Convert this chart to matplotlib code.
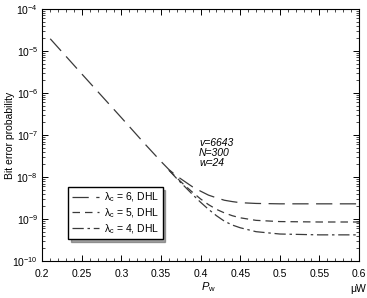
import matplotlib
matplotlib.use("Agg")
import matplotlib.pyplot as plt
from matplotlib.ticker import MultipleLocator, LogLocator, NullFormatter, FormatStrFormatter

plt.rcParams['font.family'] = ['Liberation Sans', 'DejaVu Sans']
plt.rcParams['mathtext.fontset'] = 'custom'
plt.rcParams['mathtext.rm'] = 'Liberation Sans'
plt.rcParams['mathtext.it'] = 'Liberation Sans:italic'

# power P_w (uW) and bit error probability
pw_6 = [0.21, 0.25, 0.30, 0.33, 0.35, 0.36, 0.37, 0.38, 0.39, 0.40, 0.41, 0.42,
        0.43, 0.44, 0.45, 0.47, 0.50, 0.55, 0.60]
ber_6 = [1.95e-5, 2.82e-6, 2.57e-7, 6.0e-8, 2.34e-8, 1.5e-8, 1.05e-8, 7.8e-9,
         5.8e-9, 4.6e-9, 3.7e-9, 3.2e-9, 2.8e-9, 2.6e-9, 2.45e-9, 2.35e-9,
         2.3e-9, 2.3e-9, 2.3e-9]

pw_5 = [0.36, 0.37, 0.38, 0.39, 0.40, 0.41, 0.42, 0.43, 0.44, 0.45, 0.47,
        0.50, 0.55, 0.60]
ber_5 = [1.45e-8, 9.5e-9, 6.3e-9, 4.3e-9, 3.0e-9, 2.2e-9, 1.7e-9, 1.4e-9,
         1.2e-9, 1.07e-9, 9.3e-10, 8.7e-10, 8.5e-10, 8.5e-10]

pw_4 = [0.36, 0.37, 0.38, 0.39, 0.40, 0.41, 0.42, 0.43, 0.44, 0.45, 0.47,
        0.50, 0.55, 0.60]
ber_4 = [1.45e-8, 9.1e-9, 5.9e-9, 3.8e-9, 2.5e-9, 1.7e-9, 1.2e-9, 8.9e-10,
         7.2e-10, 6.2e-10, 5.0e-10, 4.4e-10, 4.2e-10, 4.2e-10]

labels = [r'λ$_\mathrm{c}$ = 6, DHL', r'λ$_\mathrm{c}$ = 5, DHL', r'λ$_\mathrm{c}$ = 4, DHL']

fig = plt.figure(figsize=(3.67, 2.98), dpi=100)
ax = fig.add_axes([0.1153, 0.124, 0.8627, 0.846])

lc = '#3a3a3a'
ax.plot(pw_6, ber_6, color=lc, lw=0.9, dashes=(13, 6), label=labels[0])
ax.plot(pw_5, ber_5, color=lc, lw=0.9, dashes=(6, 4), label=labels[1])
ax.plot(pw_4, ber_4, color=lc, lw=0.9, dashes=(9, 3, 2, 3), label=labels[2])

ax.set_yscale('log')
ax.set_xlim(0.2, 0.6)
ax.set_ylim(1e-10, 1e-4)
ax.xaxis.set_major_locator(MultipleLocator(0.05))
ax.xaxis.set_minor_locator(MultipleLocator(0.01))
ax.xaxis.set_major_formatter(FormatStrFormatter('%g'))
ax.yaxis.set_major_locator(LogLocator(base=10, numticks=10))
ax.yaxis.set_minor_locator(LogLocator(base=10, subs=range(2, 10), numticks=20))
ax.yaxis.set_minor_formatter(NullFormatter())
ax.tick_params(which='both', direction='in', top=True, right=True, labelsize=7.5)
ax.tick_params(which='major', length=4, width=0.7)
ax.tick_params(which='minor', length=2, width=0.5)
ax.tick_params(axis='x', pad=6)
ax.tick_params(axis='y', pad=3)
for s in ax.spines.values():
    s.set_linewidth(0.8)

ax.set_ylabel('Bit error probability', fontsize=7.5)
ax.yaxis.set_label_coords(-0.085, 0.5)
fig.text(0.567, 0.012, r'$P_{\mathrm{w}}$', fontsize=8, ha='center', va='bottom')
fig.text(0.975, 0.012, 'μW', fontsize=7.5, ha='center', va='bottom')

ax.text(0.398, 10**-7.43, 'v=6643\nN=300\nw=24', fontsize=7.5, style='italic',
        va='center', ha='left', linespacing=1.0)

leg = ax.legend(loc='lower left', bbox_to_anchor=(0.065, 0.065), fontsize=7.5,
                handlelength=2.6, handletextpad=0.5, fancybox=False, shadow=True,
                borderpad=0.35, labelspacing=0.22, edgecolor='black', framealpha=1)
leg.get_frame().set_linewidth(1.0)

fig.savefig('out.png', dpi=100)
